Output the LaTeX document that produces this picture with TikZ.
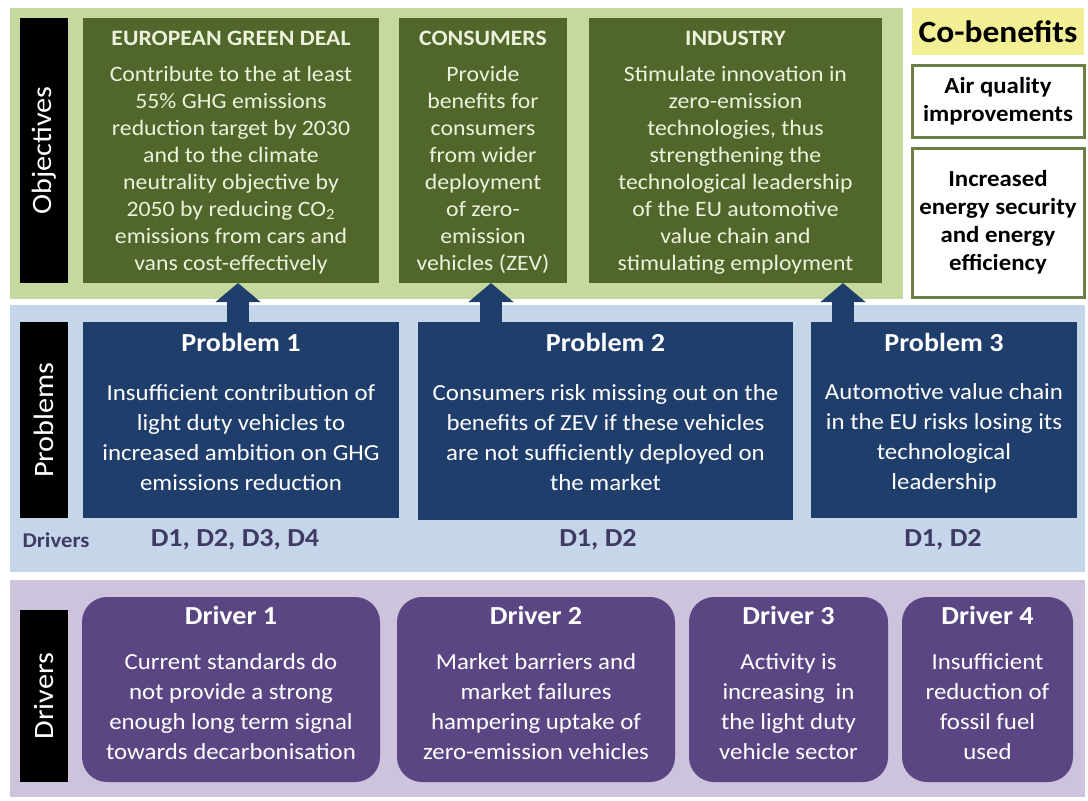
\documentclass[tikz,border=0pt]{standalone}
\usepackage{fontspec}
\setmainfont{Carlito}[FakeStretch=1.08]
\usepackage{tikz}
\usetikzlibrary{arrows.meta,fit,positioning}
\definecolor{obj_band}{HTML}{C5D89E}
\definecolor{obj_box}{HTML}{51662A}
\definecolor{obj_text}{HTML}{EDF2DC}
\definecolor{prob_band}{HTML}{C6D6EA}
\definecolor{prob_box}{HTML}{1F3E6C}
\definecolor{drv_band}{HTML}{CDC3DD}
\definecolor{drv_box}{HTML}{5B4684}
\definecolor{drv_label}{HTML}{3E3A63}
\definecolor{co_yellow}{HTML}{F3EF94}
\definecolor{co_border}{HTML}{6E7F45}

\begin{document}
\begin{tikzpicture}[x=0.5pt, y=-0.5pt]
    \tikzstyle{band} = [inner sep=0, outer sep=0];
    \tikzstyle{sidebar} = [fill=black, inner sep=0, outer sep=0];
    \tikzstyle{sidetext} = [rotate=90, text=white, font=\fontsize{14}{16}\selectfont];
    \tikzstyle{objhead} = [text=obj_text, font=\fontsize{11}{13.5}\selectfont\bfseries];
    \tikzstyle{objtext} = [text=obj_text, align=center, font=\fontsize{11}{13.5}\selectfont];
    \tikzstyle{head} = [text=white, font=\fontsize{13}{15}\selectfont\bfseries];
    \tikzstyle{body} = [text=white, align=center, font=\fontsize{11.5}{15}\selectfont];
    \tikzstyle{dlist} = [text=drv_label, font=\fontsize{13}{15}\selectfont\bfseries];
    \tikzstyle{cobox} = [fill=white, draw=co_border, line width=1.5pt, inner sep=0];
    \tikzstyle{cotext} = [align=center, font=\fontsize{11.5}{14}\selectfont\bfseries];
    \tikzstyle{fatarrow} = [draw=prob_box, line width=11pt, -{Triangle[width=22pt, length=9.5pt]}];
    \useasboundingbox (0,0) rectangle (1088,800);
    % background bands
    \foreach \n/\xa/\ya/\xb/\yb/\c in {objband/10/8/903/299/obj_band,
        probband/10/305/1085/572/prob_band,
        drvband/10/580/1085/797/drv_band}
    {
    \path (\xa,\ya) coordinate (\n-nw) (\xb,\yb) coordinate (\n-se);
    \node[band, fill=\c, fit=(\n-nw)(\n-se)] (\n) {};
    }
    % black row labels
    \foreach \n/\ya/\yb/\t in {objlab/18/283/Objectives, problab/322/518/Problems, drvlab/610/782/Drivers}
    {
    \path (20,\ya) coordinate (\n-nw) (68,\yb) coordinate (\n-se);
    \node[sidebar, fit=(\n-nw)(\n-se)] (\n) {};
    \node[sidetext] (\n-t) at (\n.center) {\t};
    }
    % objectives
    \foreach \n/\xa/\xb/\h/\t in {egd/83/379/{EUROPEAN GREEN DEAL}/{Contribute to the at least\\55\% GHG emissions\\reduction target by 2030\\and to the climate\\neutrality objective by\\2050 by reducing CO\textsubscript{2}\\emissions from cars and\\vans cost-effectively},
        cons/399/567/{CONSUMERS}/{Provide\\benefits for\\consumers\\from wider\\deployment\\of zero-\\emission\\vehicles (ZEV)},
        ind/589/882/{INDUSTRY}/{Stimulate innovation in\\zero-emission\\technologies, thus\\strengthening the\\technological leadership\\of the EU automotive\\value chain and\\stimulating employment}}
    {
    \path (\xa,18) coordinate (\n-nw) (\xb,283) coordinate (\n-se);
    \node[band, fill=obj_box, fit=(\n-nw)(\n-se)] (\n) {};
    \node[objhead] (\n-h) at (\n.north |- 0,38) {\h};
    \node[objtext] (\n-t) at (\n.center |- 0,170) {\t};
    }
    % co-benefits
    \path (912,8) coordinate (cb-nw) (1084,55) coordinate (cb-se);
    \node[band, fill=co_yellow, fit=(cb-nw)(cb-se)] (cb) {};
    \node[cotext, font=\fontsize{15.5}{17}\selectfont\bfseries] (cb-t) at (cb.center) {Co-benefits};
    \foreach \n/\ya/\yb/\t in {air/65/137/{Air quality\\improvements}, nrg/148/297/{Increased\\energy security\\and energy\\efficiency}}
    {
    \path (912,\ya) coordinate (\n-nw) (1084,\yb) coordinate (\n-se);
    \node[cobox, fit=(\n-nw)(\n-se)] (\n) {};
    \node[cotext] (\n-t) at (\n.center) {\t};
    }
    % problems
    \foreach \n/\xa/\xb/\yb/\h/\t/\dx/\d in {p1/83/399/518/{Problem 1}/{Insufficient contribution of\\light duty vehicles to\\increased ambition on GHG\\emissions reduction}/235/{D1, D2, D3, D4},
        p2/418/793/520/{Problem 2}/{Consumers risk missing out on the\\benefits of ZEV if these vehicles\\are not sufficiently deployed on\\the market}/598/{D1, D2},
        p3/811/1077/518/{Problem 3}/{Automotive value chain\\in the EU risks losing its\\technological\\leadership}/943/{D1, D2}}
    {
    \path (\xa,322) coordinate (\n-nw) (\xb,\yb) coordinate (\n-se);
    \node[band, fill=prob_box, fit=(\n-nw)(\n-se)] (\n) {};
    \node[head] (\n-h) at (\n.north |- 0,342) {\h};
    \node[body] (\n-t) at (\n.center |- 0,438) {\t};
    \node[dlist] (\n-d) at (\dx,540) {\d};
    }
    \node[dlist, font=\fontsize{10.5}{12}\selectfont\bfseries] (drvnote) at (56,540) {Drivers};
    % arrows up to the objectives
    \foreach \s/\e/\x in {p1/egd/238, p2/cons/491, p3/ind/843}
    {\draw[fatarrow] (\s.north -| \x,0) -- (\e.south -| \x,0);}
    % drivers
    \foreach \n/\xa/\xb/\h/\t in {d1/82/380/{Driver 1}/{Current standards do\\not provide a strong\\enough long term signal\\towards decarbonisation},
        d2/397/675/{Driver 2}/{Market barriers and\\market failures\\hampering uptake of\\zero-emission vehicles},
        d3/689/888/{Driver 3}/{Activity is\\increasing\ \ in\\the light duty\\vehicle sector},
        d4/902/1073/{Driver 4}/{Insufficient\\reduction of\\fossil fuel\\used}}
    {
    \path (\xa,597) coordinate (\n-nw) (\xb,782) coordinate (\n-se);
    \node[band, fill=drv_box, rounded corners=12.5pt, fit=(\n-nw)(\n-se)] (\n) {};
    \node[head] (\n-h) at (\n.north |- 0,615) {\h};
    \node[body] (\n-t) at (\n.center |- 0,707) {\t};
    }
\end{tikzpicture}
\end{document}
